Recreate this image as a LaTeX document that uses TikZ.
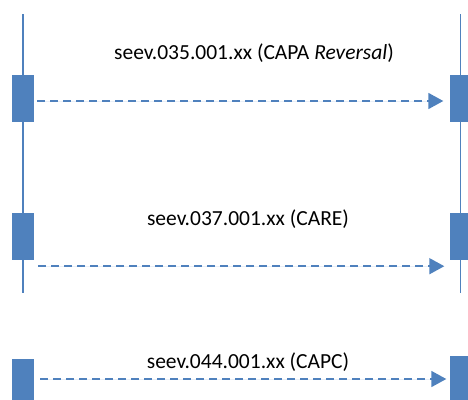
\documentclass[tikz,border=0pt]{standalone}
\usepackage{fontspec}
\setmainfont{Carlito}
\usetikzlibrary{arrows.meta}
\definecolor{officeblue}{RGB}{79,129,189}

\begin{document}
\begin{tikzpicture}[x=1pt, y=-1pt,
  act/.style={inner sep=0pt, minimum width=22pt, minimum height=47pt, fill=officeblue},
  life/.style={draw=officeblue, line width=1.6pt},
  msg/.style={draw=officeblue, line width=1.6pt, dash pattern=on 8pt off 5pt},
  lbl/.style={inner sep=0pt, font=\fontsize{21.5}{25}\selectfont},
  >={Triangle[length=15pt,width=16pt]}]
\useasboundingbox (0,0) rectangle (468,399);
\node[act] (l1) at (23,98.5) {};
\node[act] (r1) at (460.5,98.5) {};
\node[act] (l2) at (23,236.5) {};
\node[act] (r2) at (460.5,236.5) {};
\node[act] (l3) at (23,382.5) {};
\node[act] (r3) at (460.5,379.5) {};
\coordinate (lt) at (23,14);
\coordinate (rt) at (460.5,14);
\coordinate (lb) at (23,293);
\coordinate (rb) at (460.5,293);
\node[lbl] (t1) at (254,53) {seev.035.001.xx (CAPA \textit{Reversal})};
\node[lbl] (t2) at (248,219) {seev.037.001.xx (CARE)};
\node[lbl] (t3) at (248,362) {seev.044.001.xx (CAPC)};
% lifelines
\draw[life] (lt) -- (l1.north);
\draw[life] (l1.south) -- (l2.north);
\draw[life] (l2.south) -- (lb);
\draw[life] (rt) -- (r1.north);
\draw[life] (r1.south) -- (r2.north);
\draw[life] (r2.south) -- (rb);
% messages
\draw[msg,->,fill=officeblue] ([shift={(3pt,-2.5pt)}]l1.east) -- ([shift={(-6pt,-2.5pt)}]r1.west);
\draw[msg,->,fill=officeblue] ([shift={(4pt,-6pt)}]l2.south east) -- ([shift={(-5pt,-6pt)}]r2.south west);
\draw[msg,->,fill=officeblue] ([shift={(6pt,3.5pt)}]l3.east) -- ([shift={(-3pt,0.5pt)}]r3.west);
\end{tikzpicture}
\end{document}
